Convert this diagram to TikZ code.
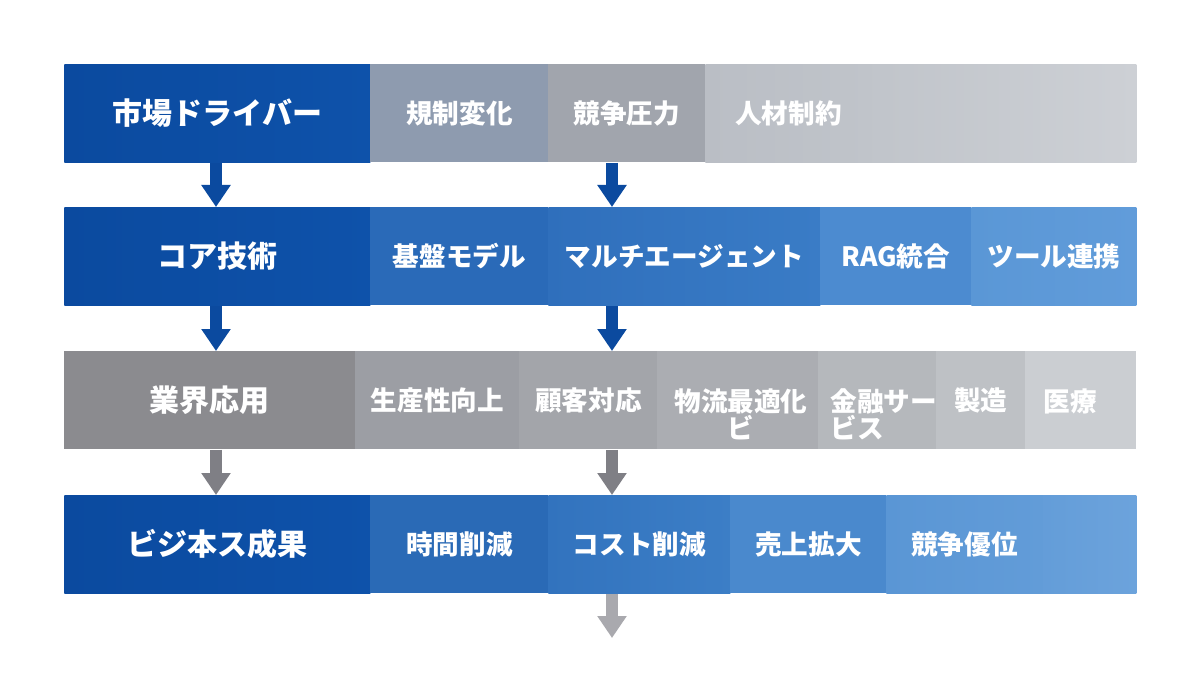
\documentclass[tikz,border=0pt]{standalone}
\usepackage{fontspec}
\setmainfont{Noto Sans CJK JP}
\usetikzlibrary{arrows.meta}
\definecolor{dblue}{HTML}{0B4A9F}
\definecolor{dblueR}{HTML}{0E52AA}
\definecolor{garrow}{HTML}{7F7F85}
\definecolor{larrow}{HTML}{A9A9AE}
\begin{document}
\begin{tikzpicture}[x=0.5pt,y=-0.5pt,
  box/.style={draw=none, inner sep=0pt, minimum height=49pt, anchor=north west,
    text=white, font=\bfseries\fontsize{13.3}{13.8}\selectfont},
  head/.style={box, font=\bfseries\fontsize{15}{16}\selectfont},
  wpx/.style={minimum width=#1*0.5pt},
  txt/.style={inner sep=0pt, text=white, font=\bfseries\fontsize{13.3}{13.8}\selectfont},
  barr/.style={line width=6pt, draw=dblue, -{Triangle[width=14pt,length=11pt]}},
  garr/.style={line width=6pt, draw=garrow, -{Triangle[width=14pt,length=11pt]}},
  larr/.style={line width=6pt, draw=larrow, -{Triangle[width=14pt,length=11pt]}}
]
\useasboundingbox[fill=white] (0,0) rectangle (1200,674);
% ---------- row 1
\node[box, wpx=276, left color={rgb,255:red,192;green,196;blue,202}, right color={rgb,255:red,205;green,208;blue,213}] (f1) at (860,64) {};
\node[head, wpx=306, left color=dblue, right color=dblueR] (h1) at (64,64) {市場ドライバー};
\node[box, wpx=178, fill={rgb,255:red,142;green,155;blue,175}] (c11) at (370,64) {規制変化};
\node[box, wpx=157, fill={rgb,255:red,161;green,165;blue,173}] (c12) at (548,64) {競争圧力};
\node[box, wpx=166, left color={rgb,255:red,186;green,190;blue,197}, right color={rgb,255:red,192;green,196;blue,202}] (c13) at (705,64) {人材制約};
% ---------- row 2
\node[head, wpx=306, left color=dblue, right color=dblueR] (h2) at (64,207) {コア技術};
\node[box, wpx=178, fill={rgb,255:red,42;green,106;blue,184}] (c21) at (370,207) {基盤モデル};
\node[box, wpx=272, left color={rgb,255:red,47;green,111;blue,188}, right color={rgb,255:red,58;green,124;blue,198}] (c22) at (548,207) {マルチエージェント};
\node[box, wpx=151, fill={rgb,255:red,76;green,139;blue,208}] (c23) at (820,207) {RAG統合};
\node[box, wpx=165, left color={rgb,255:red,90;green,151;blue,214}, right color={rgb,255:red,97;green,156;blue,218}] (c24) at (971,207) {ツール連携};
% ---------- row 3
\node[box, wpx=111, fill={rgb,255:red,203;green,206;blue,210}] (f3) at (1025,351) {};
\node[head, wpx=291, fill={rgb,255:red,139;green,139;blue,143}] (h3) at (64,351) {業界応用};
\node[box, wpx=164, fill={rgb,255:red,156;green,158;blue,164}] (c31) at (355,351) {生産性向上};
\node[box, wpx=138, fill={rgb,255:red,163;green,165;blue,170}] (c32) at (519,351) {顧客対応};
\node[box, wpx=161, fill={rgb,255:red,171;green,173;blue,178}] (c33) at (657,351) {};
\node[box, wpx=118, fill={rgb,255:red,181;green,184;blue,188}] (c34) at (818,351) {};
\node[box, wpx=89, fill={rgb,255:red,190;green,193;blue,197}] (c35) at (936,351) {製造};
\node[txt] (c36) at (1070,401) {医療};
\node[txt, align=center, anchor=north] (t33) at (741,388) {物流最適化\\ビ};
\node[txt, align=left, anchor=north west] (t34) at (830,388) {金融サー\\ビス};
% ---------- row 4
\node[box, wpx=110, left color={rgb,255:red,98;green,156;blue,216}, right color={rgb,255:red,108;green,163;blue,220}] (f4) at (1026,495) {};
\node[head, wpx=306, left color=dblue, right color=dblueR] (h4) at (64,495) {ビジ本ス成果};
\node[box, wpx=178, fill={rgb,255:red,42;green,106;blue,182}] (c41) at (370,495) {時間削減};
\node[box, wpx=182, left color={rgb,255:red,50;green,115;blue,190}, right color={rgb,255:red,60;green,126;blue,198}] (c42) at (548,495) {コスト削減};
\node[box, wpx=156, fill={rgb,255:red,74;green,137;blue,205}] (c43) at (730,495) {売上拡大};
\node[box, wpx=156, left color={rgb,255:red,90;green,150;blue,213}, right color={rgb,255:red,98;green,156;blue,216}] (c44) at (886,495) {競争優位};
% ---------- arrows
\coordinate (ax1) at (216,0);
\coordinate (ax2) at (612,0);
\coordinate (endp) at (612,638);
\draw[barr] (h1.south -| ax1) -- (h2.north -| ax1);
\draw[barr] (c12.south -| ax2) -- (c22.north -| ax2);
\draw[barr] (h2.south -| ax1) -- (h3.north -| ax1);
\draw[barr] (c22.south -| ax2) -- (c32.north -| ax2);
\draw[garr] (h3.south -| ax1) -- (h4.north -| ax1);
\draw[garr] (c32.south -| ax2) -- (c42.north -| ax2);
\draw[larr] (c42.south -| ax2) -- (endp);
\end{tikzpicture}
\end{document}
